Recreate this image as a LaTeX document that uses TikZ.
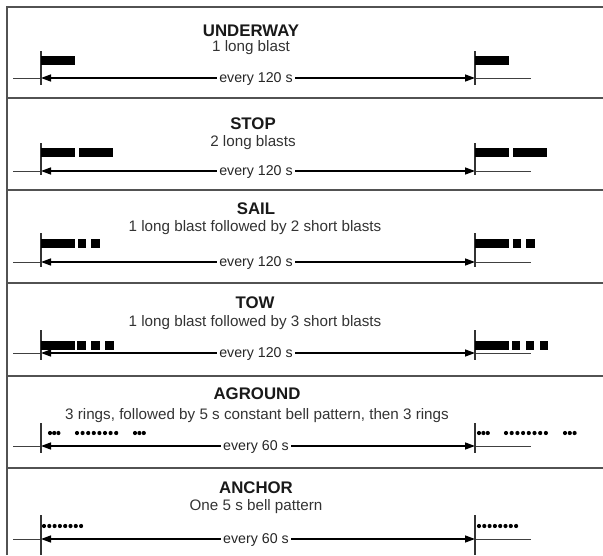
\documentclass[tikz,border=0pt]{standalone}
\usepackage{fontspec}
\setmainfont{Liberation Sans}
\usetikzlibrary{arrows.meta}
\tikzset{
  sepline/.style={draw=black!68, line width=2.3pt},
  ttl/.style={font=\fontsize{16.8}{19}\selectfont\bfseries, inner sep=0pt, anchor=base, text=black!90},
  subt/.style={font=\fontsize{15.2}{17}\selectfont, inner sep=0pt, anchor=base, text=black!80},
  per/.style={font=\fontsize{14.2}{16}\selectfont, fill=white, inner xsep=2.5pt, inner ysep=1pt, anchor=base, text=black!85},
  thinline/.style={draw=black!75, line width=0.9pt},
  arr/.style={draw=black, line width=1.4pt, {Triangle[length=10pt,width=7pt]}-{Triangle[length=10pt,width=7pt]}},
  tickline/.style={draw=black!80, line width=1.1pt},
  blast/.style={fill=black},
}
% #1 name, #2 line y, #3 tick top, #4 tick bottom, #5 text
\newcommand\sigrow[5]{%
  \coordinate (#1Ls) at (13,#2);
  \coordinate (#1L) at (41,#2);
  \coordinate (#1R) at (475,#2);
  \coordinate (#1Re) at (531,#2);
  \coordinate (#1Lt) at (41,#3);
  \coordinate (#1Lb) at (41,#4);
  \coordinate (#1Rt) at (475,#3);
  \coordinate (#1Rb) at (475,#4);
  \draw[thinline] (#1Ls) -- (#1L);
  \draw[thinline] (#1R) -- (#1Re);
  \draw[arr] (#1L) -- (#1R);
  \draw[tickline] (#1Lt) -- (#1Lb);
  \draw[tickline] (#1Rt) -- (#1Rb);
  \node[per] (#1per) at (256,{#2+4}) {#5};
}
\begin{document}
\begin{tikzpicture}[x=1pt,y=-1pt]
\useasboundingbox (0,0) rectangle (603,555);
% frame
\draw[sepline] (7,555) -- (7,7) -- (603,7);
\foreach \yy in {98,190,283,376,468} \draw[sepline] (7,\yy) -- (603,\yy);

% UNDERWAY
\node[ttl] (t1) at (251,36) {UNDERWAY};
\node[subt] (s1) at (251,51.5) {1 long blast};
\sigrow{a}{78}{51}{85}{every 120 s}
\fill[blast] (41,55.5) rectangle (75,64.5);
\fill[blast] (475,55.5) rectangle (509,64.5);

% STOP
\node[ttl] (t2) at (253,129) {STOP};
\node[subt] (s2) at (253,146.5) {2 long blasts};
\sigrow{b}{171}{143}{175}{every 120 s}
\fill[blast] (41,147.5) rectangle (75,156.5);
\fill[blast] (79,147.5) rectangle (113,156.5);
\fill[blast] (475,147.5) rectangle (509,156.5);
\fill[blast] (513,147.5) rectangle (547,156.5);

% SAIL
\node[ttl] (t3) at (256,214) {SAIL};
\node[subt] (s3) at (255,231.5) {1 long blast followed by 2 short blasts};
\sigrow{c}{262}{233}{267}{every 120 s}
\fill[blast] (41,239) rectangle (75,248);
\foreach \xx in {77.5,91} \fill[blast] (\xx,239) rectangle ++(8.5,9);
\fill[blast] (475,239) rectangle (509,248);
\foreach \xx in {512.5,526} \fill[blast] (\xx,239) rectangle ++(8.5,9);

% TOW
\node[ttl] (t4) at (255,308) {TOW};
\node[subt] (s4) at (255,326.5) {1 long blast followed by 3 short blasts};
\sigrow{d}{353}{330}{360}{every 120 s}
\fill[blast] (41,341) rectangle (75,350);
\foreach \xx in {77,91,105} \fill[blast] (\xx,341) rectangle ++(8.5,9);
\fill[blast] (475,341) rectangle (509,350);
\foreach \xx in {511.5,525.5,539.5} \fill[blast] (\xx,341) rectangle ++(8.5,9);

% AGROUND
\node[ttl] (t5) at (257,399) {AGROUND};
\node[subt] (s5) at (257,419.5) {3 rings, followed by 5 s constant bell pattern, then 3 rings};
\sigrow{e}{446}{423}{453}{every 60 s}
\foreach \gx/\n/\p in {48/3/4.2,75/8/5.6,133/3/4.4,477/3/4.4,504/8/5.7,563/3/4.8}
  \foreach \k in {1,...,\n} \fill ({\gx+2+(\k-1)*\p},433) circle (2.1pt);

% ANCHOR
\node[ttl] (t6) at (256,493) {ANCHOR};
\node[subt] (s6) at (256,510.5) {One 5 s bell pattern};
\sigrow{f}{539}{515}{555}{every 60 s}
\foreach \gx in {42,477}
  \foreach \k in {1,...,8} \fill ({\gx+2+(\k-1)*5.3},526) circle (2.1pt);
\end{tikzpicture}
\end{document}
